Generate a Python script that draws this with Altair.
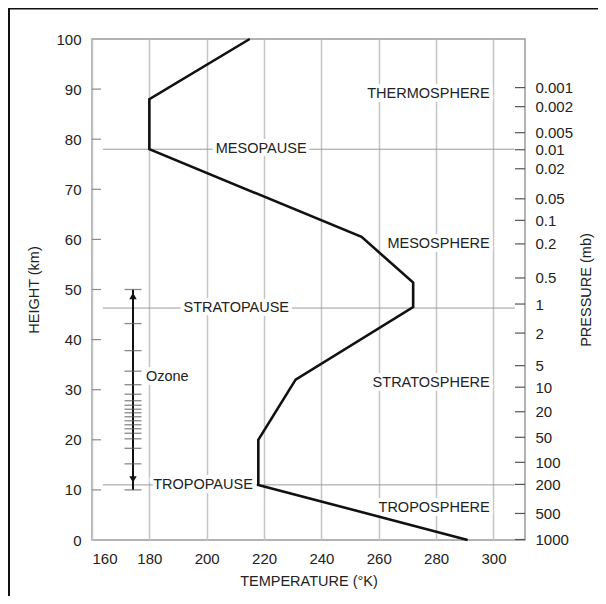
import altair as alt
import pandas as pd

# Temperature profile
profile_temp = [291, 218, 218, 231, 272, 272, 254, 180, 180, 215]
profile_height = [0, 11, 20, 32, 46.5, 51.4, 60.5, 78, 88, 100]

# Pause levels
pause_names = ["MESOPAUSE", "STRATOPAUSE", "TROPOPAUSE"]
pause_heights = [78, 46.3, 11]
pause_label_temp = [219, 210.3, 198.7]
pause_start, pause_end = 163.8, 307.4

# Region labels
region_names = ["THERMOSPHERE", "MESOSPHERE", "STRATOSPHERE", "TROPOSPHERE"]
region_heights = [89.1, 59.0, 31.4, 6.3]
region_label_temp = 298.7

# Ozone layer
ozone_temp = 174.3
ozone_bottom, ozone_top = 10, 50
ozone_ticks = [50, 43.2, 37.8, 33.7, 31.0, 29.1, 27.8, 26.9, 26.1, 25.4, 24.6,
               23.8, 23.0, 22.2, 21.3, 20.2, 18.3, 15.2, 10]
ozone_arrow_up, ozone_arrow_down = 48.7, 12.1
ozone_label_temp, ozone_label_height = 178.8, 32.6

# Axes
temp_ticks = [160, 180, 200, 220, 240, 260, 280, 300]
height_ticks = list(range(0, 101, 10))
inner_height_ticks = list(range(10, 100, 10))
pressure_labels = ["0.001", "0.002", "0.005", "0.01", "0.02", "0.05", "0.1", "0.2",
                   "0.5", "1", "2", "5", "10", "20", "50", "100", "200", "500", "1000"]
pressure_heights = [90.3, 86.5, 81.3, 77.9, 74.1, 68.1, 63.8, 59.1, 52.3, 47.1,
                    41.3, 34.8, 30.5, 25.6, 20.5, 15.5, 11.1, 5.3, 0.1]

FONT = "Liberation Sans"
TXT = "#222222"
W, H = 433, 501

xs = alt.Scale(domain=[160, 311], nice=False, zero=False)
ys = alt.Scale(domain=[0, 100], nice=False, zero=False)
x_axis = alt.Axis(values=temp_ticks, grid=True, ticks=False, domain=False,
                  labelPadding=11, title="TEMPERATURE (°K)", titlePadding=8)

profile_df = pd.DataFrame({"temp": profile_temp, "height": profile_height,
                           "order": list(range(len(profile_temp)))})
pause_df = pd.DataFrame({"name": pause_names, "height": pause_heights,
                         "label_t": pause_label_temp,
                         "t0": [pause_start] * 3, "t1": [pause_end] * 3})
region_df = pd.DataFrame({"name": region_names, "height": region_heights,
                          "t": [region_label_temp] * len(region_names)})
ozone_df = pd.DataFrame({"t": [ozone_temp], "lo": [ozone_bottom], "hi": [ozone_top]})
ozone_tick_df = pd.DataFrame({"t": [ozone_temp] * len(ozone_ticks), "height": ozone_ticks})
arrow_df = pd.DataFrame({"t": [ozone_temp, ozone_temp],
                         "height": [ozone_arrow_up, ozone_arrow_down],
                         "shape": ["triangle-up", "triangle-down"]})
ozone_label_df = pd.DataFrame({"t": [ozone_label_temp], "height": [ozone_label_height],
                               "name": ["Ozone"]})
left_tick_df = pd.DataFrame({"height": inner_height_ticks})
press_df = pd.DataFrame({"h": pressure_heights, "label": pressure_labels})

label_expr = "[" + ",".join("'%s'" % p for p in pressure_labels) + "][indexof([" + \
    ",".join(repr(h) for h in pressure_heights) + "], datum.value)]"


def X(field):
    return alt.X(f"{field}:Q", scale=xs, axis=x_axis)


def Y(field):
    return alt.Y(f"{field}:Q", scale=ys, axis=None)


one = pd.DataFrame({"a": [0]})
# outer frame (left and top edges)
frame_left = alt.Chart(one).mark_rule(color="#111111", strokeWidth=2).encode(
    x=alt.value(-83), y=alt.value(-31), y2=alt.value(700))
frame_top = alt.Chart(one).mark_rule(color="#111111", strokeWidth=2).encode(
    x=alt.value(-84), x2=alt.value(700), y=alt.value(-30.5))

pause_rules = alt.Chart(pause_df).mark_rule(color="#9a9a9a", strokeWidth=1).encode(
    x=X("t0"), x2="t1:Q", y=Y("height"))

left_ticks = alt.Chart(left_tick_df).mark_rule(color="#8a8a8a", strokeWidth=1.2).encode(
    x=alt.value(0), x2=alt.value(9), y=Y("height"))

right_ticks = alt.Chart(press_df).mark_rule(color="#555555", strokeWidth=1.2).encode(
    x=alt.value(W - 10), x2=alt.value(W),
    y=alt.Y("h:Q", scale=ys, axis=alt.Axis(
        orient="right", values=pressure_heights, labelExpr=label_expr,
        ticks=False, domain=False, grid=False, labelPadding=10,
        title="PRESSURE (mb)", titleAngle=270, titlePadding=21)))


def halo_text(df, align, xfield, textfield):
    base = alt.Chart(df)
    halo = base.mark_text(align=align, baseline="middle", font=FONT, fontSize=14.5,
                          color="white", stroke="white", strokeWidth=8,
                          strokeJoin="round").encode(
        x=X(xfield), y=Y("height"), text=f"{textfield}:N")
    txt = base.mark_text(align=align, baseline="middle", font=FONT, fontSize=14.5,
                         color=TXT).encode(
        x=X(xfield), y=Y("height"), text=f"{textfield}:N")
    return halo, txt


pause_halo, pause_txt = halo_text(pause_df, "center", "label_t", "name")
region_halo, region_txt = halo_text(region_df, "right", "t", "name")
oz_halo, oz_txt = halo_text(ozone_label_df, "left", "t", "name")

ozone_line = alt.Chart(ozone_df).mark_rule(color="#111111", strokeWidth=2).encode(
    x=X("t"), y=Y("lo"), y2="hi:Q")
ozone_tk = alt.Chart(ozone_tick_df).mark_tick(
    orient="horizontal", size=17, thickness=1.3, color="#555555").encode(
    x=X("t"), y=Y("height"))
arrows = alt.Chart(arrow_df).mark_point(filled=True, color="#111111", size=55, opacity=1).encode(
    x=X("t"), y=Y("height"),
    shape=alt.Shape("shape:N", scale=None))

profile = alt.Chart(profile_df).mark_line(color="#111111", strokeWidth=2.6).encode(
    x=X("temp"),
    y=alt.Y("height:Q", scale=ys, axis=alt.Axis(
        values=height_ticks, grid=False, ticks=False, domain=False, labelPadding=11,
        title="HEIGHT (km)", titlePadding=14)),
    order="order:Q")

chart = alt.layer(
    frame_left, frame_top, pause_rules, left_ticks, right_ticks,
    pause_halo, region_halo, oz_halo,
    ozone_line, ozone_tk, arrows,
    pause_txt, region_txt, oz_txt,
    profile,
).resolve_axis(y="independent").properties(
    width=W, height=H,
    autosize=alt.AutoSizeParams(type="none"),
    padding={"left": 84, "top": 31, "right": 73, "bottom": 56},
).configure_view(stroke="#9a9a9a", strokeWidth=1.5).configure_axis(
    labelFont=FONT, labelFontSize=15, labelColor=TXT,
    titleFont=FONT, titleFontSize=14.5, titleFontWeight="normal", titleColor=TXT,
    gridColor="#c4c4c4", gridWidth=1.5, gridOpacity=1,
)

chart.save("out.html", embed_options={"renderer": "svg", "actions": False})
